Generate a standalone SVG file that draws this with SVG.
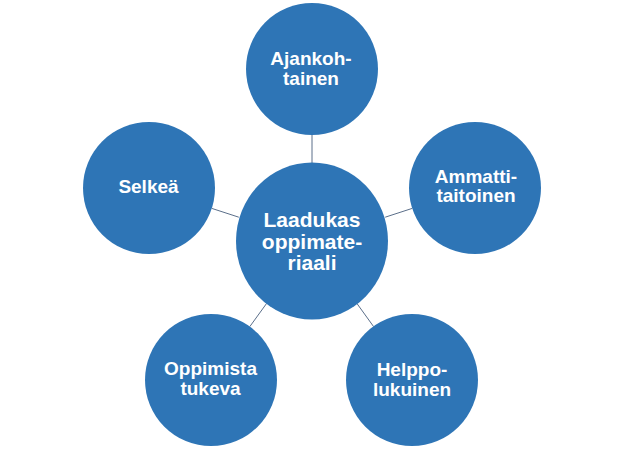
<svg xmlns="http://www.w3.org/2000/svg" width="624" height="450" viewBox="0 0 624 450">
<style>
.n{fill:#2E75B6;}
.t{fill:#FFFFFF;font-family:"Liberation Sans",Arial,sans-serif;font-weight:bold;font-size:19px;text-anchor:middle;}
.c{font-size:21px;}
.e{stroke:#5B6F8A;stroke-width:1;fill:none;}
</style>
<rect width="624" height="450" fill="#FFFFFF"/>
<g id="connectors">
<line class="e" x1="312" y1="135" x2="312" y2="163"/>
<line class="e" x1="385.2" y1="217.2" x2="412.2" y2="208.4"/>
<line class="e" x1="238.8" y1="217.2" x2="211.8" y2="208.4"/>
<line class="e" x1="266.7" y1="303.3" x2="249.8" y2="326.6"/>
<line class="e" x1="356.8" y1="303.3" x2="373.6" y2="326.6"/>
</g>
<g id="center">
<ellipse class="n" cx="312" cy="241" rx="76" ry="78.5"/>
<text class="t c" x="312" y="227">Laadukas</text>
<text class="t c" x="312" y="248.5">oppimate-</text>
<text class="t c" x="312" y="270">riaali</text>
</g>
<g id="top">
<circle class="n" cx="312" cy="69" r="66"/>
<text class="t" x="311" y="65">Ajankoh-</text>
<text class="t" x="311" y="85">tainen</text>
</g>
<g id="right">
<circle class="n" cx="475" cy="188" r="66"/>
<text class="t" x="476" y="183">Ammatti-</text>
<text class="t" x="476" y="202">taitoinen</text>
</g>
<g id="left">
<circle class="n" cx="149" cy="188" r="66"/>
<text class="t" x="148.5" y="193">Selkeä</text>
</g>
<g id="bottomleft">
<circle class="n" cx="211" cy="380" r="66"/>
<text class="t" x="210.5" y="375">Oppimista</text>
<text class="t" x="210.5" y="395">tukeva</text>
</g>
<g id="bottomright">
<circle class="n" cx="412" cy="380" r="66"/>
<text class="t" x="412" y="376">Helppo-</text>
<text class="t" x="412" y="396">lukuinen</text>
</g>
</svg>
